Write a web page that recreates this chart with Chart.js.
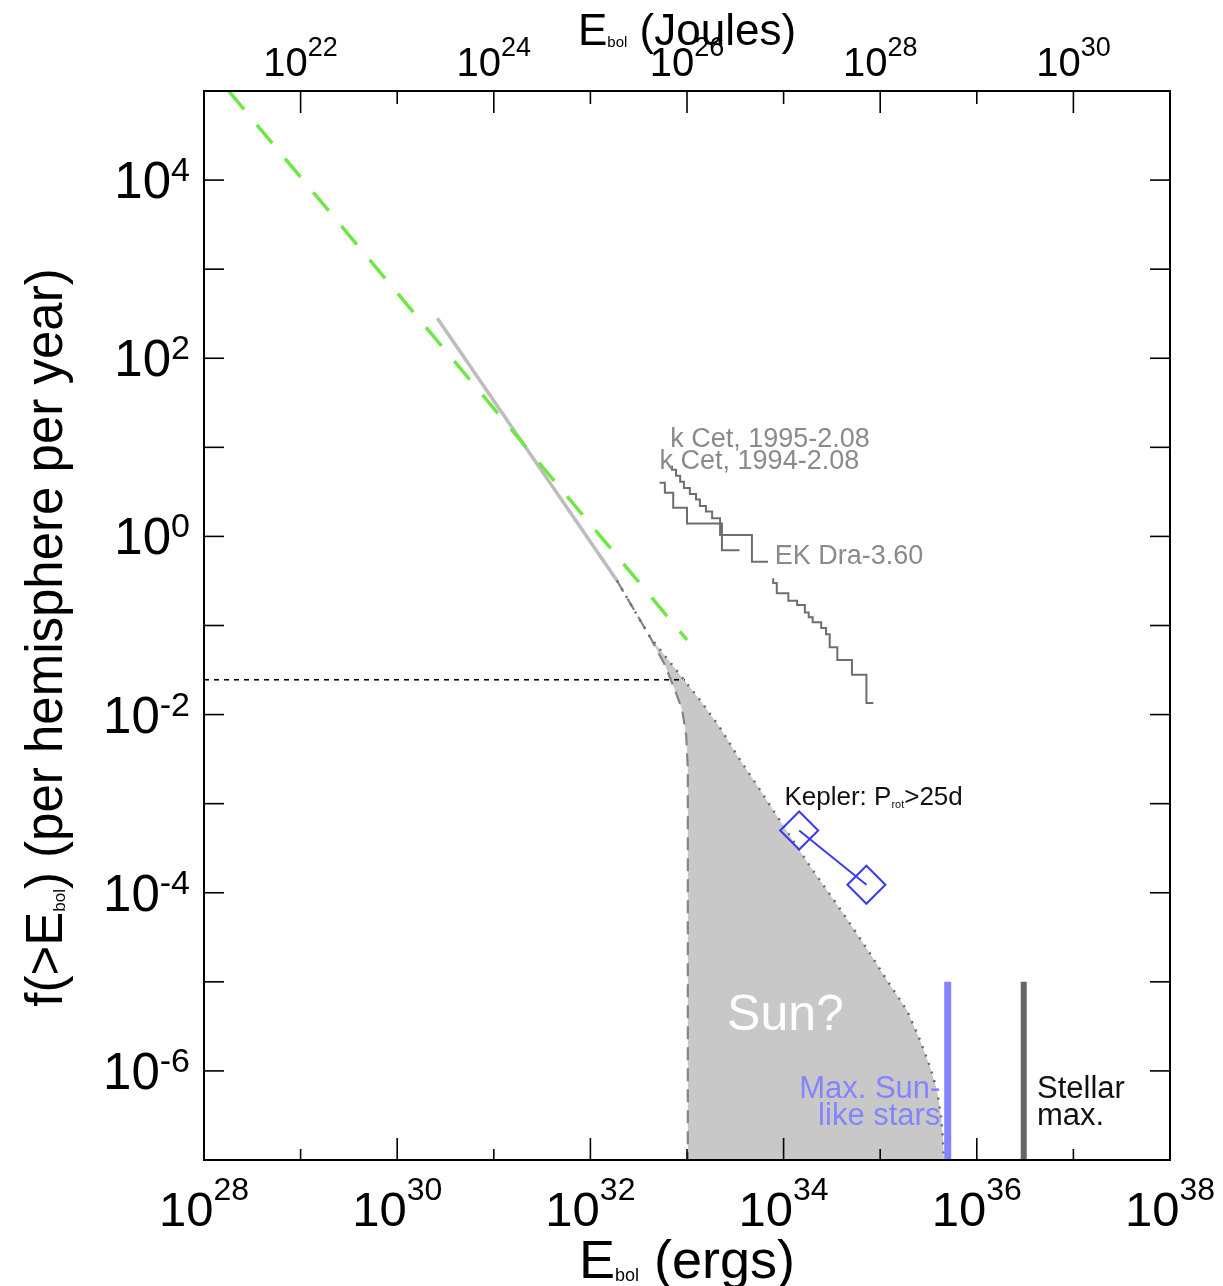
<!DOCTYPE html>
<html>
<head>
<meta charset="utf-8">
<script src="https://cdn.jsdelivr.net/npm/chart.js@4/dist/chart.umd.min.js"></script>
<style>
  html, body { margin: 0; padding: 0; background: #fff; }
  canvas { display: block; }
</style>
</head>
<body>
<canvas id="flareChart" width="1223" height="1286"></canvas>
<script>
// tick labels (exponents of ten)
var xTickValues = [1e28, 1e30, 1e32, 1e34, 1e36, 1e38];
var xTickExps = ['28', '30', '32', '34', '36', '38'];
var jouleTickValues = [1e22, 1e24, 1e26, 1e28, 1e30];
var jouleTickExps = ['22', '24', '26', '28', '30'];
var yTickValues = [1e4, 1e2, 1, 1e-2, 1e-4, 1e-6];
var yTickExps = ['4', '2', '0', '-2', '-4', '-6'];

// green power law
var greenE = [1.8e28, 1.0e33];
var greenF = [1.0e5, 0.069];

// grey solar fit
var fitE = [2.6e30, 1.88e32];
var fitF = [282, 0.32];

// "Sun?" region: dotted upper edge and dashed lower edge
var upperE = [1.88e32, 4.14e32, 1.36e33, 2.2e33, 3.54e33, 5.7e33, 9.2e33, 1.87e34, 4.12e34,
              7.8e34, 1.17e35, 1.89e35, 2.58e35, 3.28e35, 3.87e35, 4.26e35, 4.47e35, 4.57e35];
var upperF = [0.32, 0.0743, 0.0146, 7.1e-3, 3.1e-3, 1.43e-3, 6.4e-4, 2.0e-4, 5.9e-5,
              2.1e-5, 1.05e-5, 4.8e-6, 2.23e-6, 1.11e-6, 6.1e-7, 3.05e-7, 1.68e-7, 1e-7];
var lowerE = [1.88e32, 4.14e32, 5.9e32, 7.5e32, 8.9e32, 9.8e32, 1.02e33, 1.02e33];
var lowerF = [0.32, 0.0743, 0.036, 0.0189, 0.0113, 5.9e-3, 2.4e-3, 1e-7];

// horizontal threshold
var threshE = [1e28, 9.5e32];
var threshF = [0.0246, 0.0246];

// stellar cumulative distributions
var kCet95E = [7.0e32, 7.7e32, 8.5e32, 9.3e32, 1.07e33, 1.24e33, 1.36e33, 1.57e33, 1.82e33, 2.2e33, 4.7e33, 6.9e33];
var kCet95F = [6.2, 5.6, 4.8, 4.1, 3.5, 3.0, 2.6, 2.2, 1.9, 1.6, 1.04, 0.52];
var kCet94E = [5.2e32, 5.9e32, 7.2e32, 1.0e33, 2.3e33, 3.5e33];
var kCet94F = [4.0, 4.0, 3.1, 2.1, 1.4, 0.70];
var ekDraE = [7.8e33, 8.5e33, 1.12e34, 1.38e34, 1.66e34, 1.82e34, 2.0e34, 2.45e34, 2.75e34, 3.0e34, 3.6e34, 5.1e34, 7.2e34, 8.5e34];
var ekDraF = [0.34, 0.30, 0.23, 0.19, 0.17, 0.14, 0.124, 0.109, 0.094, 0.080, 0.057, 0.041, 0.028, 0.0135];

// Kepler sun-like stars
var keplerE = [1.45e34, 7.2e34];
var keplerF = [5.0e-4, 1.23e-4];

// maximum energies
var sunLikeMaxE = [5.0e35, 5.0e35];
var stellarMaxE = [3.06e36, 3.06e36];
var maxLineF = [1e-5, 1e-7];

var FONT = '"Liberation Sans", Arial, Helvetica, sans-serif';

function pts(xs, ys) {
  return xs.map(function (v, i) { return { x: v, y: ys[i] }; });
}

var shape = pts(upperE, upperF).concat(pts(lowerE, lowerF).reverse());

function line(ctx, x1, y1, x2, y2) {
  ctx.beginPath(); ctx.moveTo(x1, y1); ctx.lineTo(x2, y2); ctx.stroke();
}

// draws pieces of text one after the other (for sub/superscripts)
function richText(ctx, parts, x, y, align, color) {
  var w = 0;
  parts.forEach(function (p) {
    ctx.font = p.size + 'px ' + FONT;
    p.w = ctx.measureText(p.t).width;
    w += p.w;
  });
  var cx = align === 'center' ? x - w / 2 : align === 'right' ? x - w : x;
  ctx.fillStyle = color;
  ctx.textAlign = 'left';
  ctx.textBaseline = 'alphabetic';
  parts.forEach(function (p) {
    ctx.font = p.size + 'px ' + FONT;
    ctx.fillText(p.t, cx, y + (p.dy || 0));
    cx += p.w;
  });
}

function pow10(exp, big, small, raise) {
  return [{ t: '10', size: big }, { t: exp, size: small, dy: -raise }];
}

var notes = [
  { parts: [{ t: 'k Cet, 1995-2.08', size: 27 }], x: 6.7e32, y: 10, align: 'left', color: '#8a8a8a' },
  { parts: [{ t: 'k Cet, 1994-2.08', size: 27 }], x: 5.2e32, y: 5.7, align: 'left', color: '#8a8a8a' },
  { parts: [{ t: 'EK Dra-3.60', size: 27 }], x: 8.1e33, y: 0.49, align: 'left', color: '#8a8a8a' },
  { parts: [{ t: 'Kepler: P', size: 26 }, { t: 'rot', size: 11, dy: 3 }, { t: '>25d', size: 26 }],
    x: 1.02e34, y: 9.7e-4, align: 'left', color: '#111' },
  { parts: [{ t: 'Sun?', size: 50 }], x: 2.6e33, y: 2.9e-6, align: 'left', color: '#ffffff' },
  { parts: [{ t: 'Max. Sun-', size: 31 }], x: 4.2e35, y: 5.0e-7, align: 'right', color: '#8484ff' },
  { parts: [{ t: 'like stars', size: 31 }], x: 4.2e35, y: 2.5e-7, align: 'right', color: '#8484ff' },
  { parts: [{ t: 'Stellar', size: 31 }], x: 4.2e36, y: 5.0e-7, align: 'left', color: '#111' },
  { parts: [{ t: 'max.', size: 31 }], x: 4.2e36, y: 2.5e-7, align: 'left', color: '#111' }
];

var decor = {
  id: 'decor',
  afterDatasetsDraw: function (chart) {
    var ctx = chart.ctx, sx = chart.scales.x, sy = chart.scales.y;
    ctx.save();
    notes.forEach(function (n) {
      richText(ctx, n.parts, sx.getPixelForValue(n.x), sy.getPixelForValue(n.y), n.align, n.color);
    });
    ctx.restore();
  },
  afterDraw: function (chart) {
    var ctx = chart.ctx, a = chart.chartArea;
    var sx = chart.scales.x, sj = chart.scales.xTop, sy = chart.scales.y;
    var e, p;
    ctx.save();
    ctx.strokeStyle = '#000';
    ctx.lineWidth = 2;
    ctx.strokeRect(a.left, a.top, a.right - a.left, a.bottom - a.top);

    // inward tick marks, one per decade
    ctx.lineWidth = 1.6;
    for (e = 28; e <= 38; e++) {
      p = sx.getPixelForValue(Math.pow(10, e));
      line(ctx, p, a.bottom, p, a.bottom - (e % 2 === 0 ? 22 : 11));
    }
    for (e = 21; e <= 31; e++) {
      p = sj.getPixelForValue(Math.pow(10, e));
      line(ctx, p, a.top, p, a.top + (e % 2 === 0 ? 22 : 13));
    }
    for (e = -7; e <= 5; e++) {
      p = sy.getPixelForValue(Math.pow(10, e));
      line(ctx, a.left, p, a.left + 20, p);
      line(ctx, a.right, p, a.right - 20, p);
    }

    // tick labels
    xTickValues.forEach(function (v, i) {
      richText(ctx, pow10(xTickExps[i], 49, 32, 26), sx.getPixelForValue(v), a.bottom + 66, 'center', '#000');
    });
    jouleTickValues.forEach(function (v, i) {
      richText(ctx, pow10(jouleTickExps[i], 40, 27, 20), sj.getPixelForValue(v), a.top - 15, 'center', '#000');
    });
    yTickValues.forEach(function (v, i) {
      richText(ctx, pow10(yTickExps[i], 51, 34, 17), a.left - 14, sy.getPixelForValue(v) + 18, 'right', '#000');
    });

    // axis titles
    var midX = (a.left + a.right) / 2;
    richText(ctx, [{ t: 'E', size: 54 }, { t: 'bol', size: 18, dy: 3 }, { t: ' (ergs)', size: 54 }],
      midX, a.bottom + 118, 'center', '#000');
    richText(ctx, [{ t: 'E', size: 44 }, { t: 'bol', size: 15, dy: 2 }, { t: ' (Joules)', size: 44 }],
      midX, a.top - 46, 'center', '#000');
    ctx.translate(62, (a.top + a.bottom) / 2 + 12);
    ctx.rotate(-Math.PI / 2);
    richText(ctx, [{ t: 'f(>E', size: 51 }, { t: 'bol', size: 17, dy: 3 },
      { t: ') (per hemisphere per year)', size: 51 }], 0, 0, 'center', '#000');
    ctx.restore();
  }
};

function lineSet(data, color, width, dash, extra) {
  var d = {
    data: data, showLine: true, borderColor: color, borderWidth: width,
    borderDash: dash || [], pointRadius: 0, fill: false, tension: 0
  };
  return Object.assign(d, extra || {});
}

new Chart(document.getElementById('flareChart'), {
  type: 'scatter',
  data: {
    datasets: [
      lineSet(pts(keplerE, keplerF), '#3a3af2', 2, [], {
        pointRadius: 19, pointStyle: 'rectRot', pointBorderWidth: 2,
        pointBackgroundColor: 'rgba(0,0,0,0)', pointBorderColor: '#3a3af2'
      }),
      lineSet(pts(sunLikeMaxE, maxLineF), '#8484ff', 7, [], { borderCapStyle: 'butt' }),
      lineSet(pts(stellarMaxE, maxLineF), '#666666', 6, [], { borderCapStyle: 'butt' }),
      lineSet(pts(ekDraE, ekDraF), '#6e6e6e', 2, [], { stepped: 'after' }),
      lineSet(pts(kCet95E, kCet95F), '#6e6e6e', 2, [], { stepped: 'after' }),
      lineSet(pts(kCet94E, kCet94F), '#6e6e6e', 2, [], { stepped: 'after' }),
      lineSet(pts(greenE, greenF), '#6ee845', 3.5, [24, 20]),
      lineSet(pts(threshE, threshF), '#000000', 1.6, [5, 5]),
      lineSet(pts(upperE, upperF), '#6a6a6a', 2.5, [2, 7]),
      lineSet(pts(lowerE, lowerF), '#858585', 2.2, [13, 8]),
      lineSet(pts(fitE, fitF), '#bdbdbd', 3.5),
      lineSet(shape, 'rgba(0,0,0,0)', 0, [], { fill: 'shape', backgroundColor: '#c8c8c8' })
    ]
  },
  options: {
    responsive: false,
    animation: false,
    events: [],
    layout: { padding: { left: 204, right: 53, top: 91, bottom: 126 } },
    scales: {
      x: { type: 'logarithmic', position: 'bottom', min: 1e28, max: 1e38, display: false },
      xTop: { type: 'logarithmic', position: 'top', min: 1e21, max: 1e31, display: false },
      y: { type: 'logarithmic', position: 'left', min: 1e-7, max: 1e5, display: false }
    },
    plugins: { legend: { display: false }, tooltip: { enabled: false } }
  },
  plugins: [decor]
});
</script>
</body>
</html>
